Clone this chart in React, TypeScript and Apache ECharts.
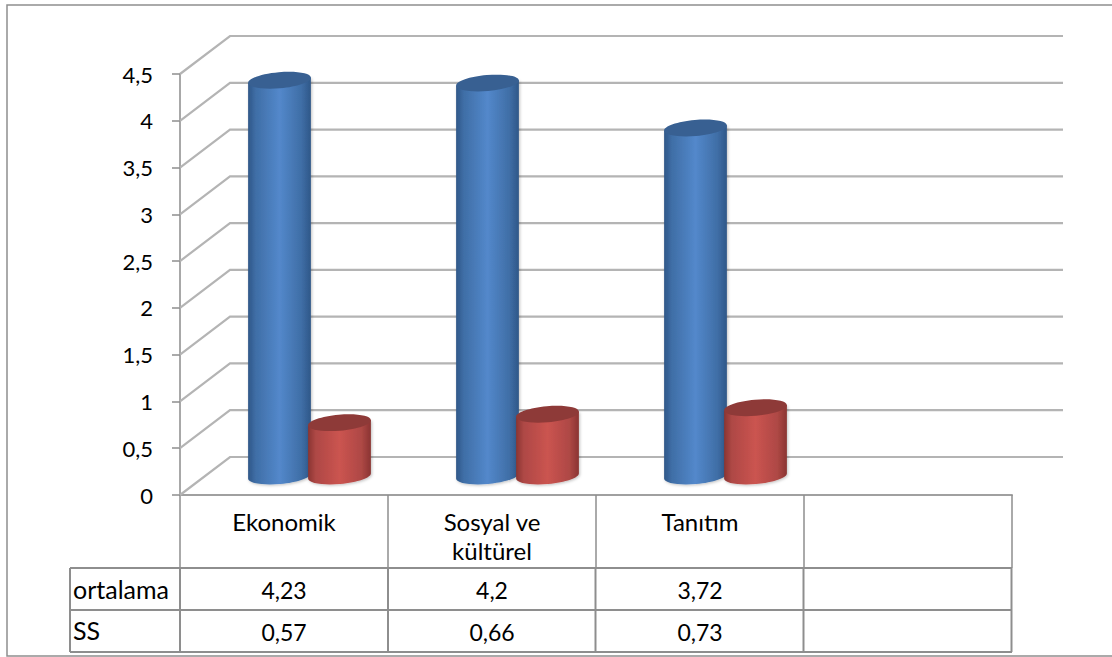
import React, { useEffect, useRef } from "react";
import * as echarts from "echarts";

const categories = ["Ekonomik", "Sosyal ve\nkültürel", "Tanıtım", ""];
const ortalama = [4.23, 4.2, 3.72];
const ss = [0.57, 0.66, 0.73];
const ticks = [0, 0.5, 1, 1.5, 2, 2.5, 3, 3.5, 4, 4.5];
const rowNames = ["ortalama", "SS"];

const FONT = "Lato";
const GRID = { left: 180, top: 74, width: 832, height: 421 };
const DEPTH_X = 50;
const DEPTH_Y = 38;
const RX = 31.5;
const RY = 8;
const TILT = 5;
const K = 0.5523;
const LINE = "#8e8e8e";
const fmt = (v: number) => String(v).replace(".", ",");

const cylinder = (offset: number, body: string[], cap: string) => (params: any, api: any) => {
  const [x, y] = api.coord([api.value(0), api.value(1)]);
  const [, y0] = api.coord([api.value(0), 0]);
  const cx = x + offset + DEPTH_X / 2;
  const top = y - DEPTH_Y / 2;
  const bot = y0 - DEPTH_Y / 2;
  const a = (TILT * Math.PI) / 180;
  // axes of the tilted ellipse
  const ux = RX * Math.cos(a);
  const uy = -RX * Math.sin(a);
  const vx = RY * Math.sin(a);
  const vy = RY * Math.cos(a);
  const p = (cy: number, m: number, n: number) => `${cx + ux * m + vx * n} ${cy + uy * m + vy * n}`;
  // lower half of the ellipse, from its left end to its right end
  const lower = (cy: number) =>
    `C${p(cy, -1, K)} ${p(cy, -K, 1)} ${p(cy, 0, 1)}C${p(cy, K, 1)} ${p(cy, 1, K)} ${p(cy, 1, 0)}`;
  // upper half, from the right end back to the left end
  const upper = (cy: number) =>
    `C${p(cy, 1, -K)} ${p(cy, K, -1)} ${p(cy, 0, -1)}C${p(cy, -K, -1)} ${p(cy, -1, -K)} ${p(cy, -1, 0)}`;
  return {
    type: "group",
    children: [
      {
        type: "path",
        shape: {
          pathData: `M${p(top, -1, 0)}L${p(bot, -1, 0)}${lower(bot)}L${p(top, 1, 0)}Z`,
        },
        style: {
          fill: new echarts.graphic.LinearGradient(0, 0, 1, 0, [
            { offset: 0, color: body[0] },
            { offset: 0.12, color: body[1] },
            { offset: 0.5, color: body[2] },
            { offset: 0.85, color: body[1] },
            { offset: 1, color: body[0] },
          ]),
          shadowBlur: 3,
          shadowColor: "rgba(0,0,0,0.25)",
          shadowOffsetX: 1,
          shadowOffsetY: 1,
        },
      },
      {
        type: "path",
        shape: {
          pathData: `M${p(top, -1, 0)}${lower(top)}${upper(top)}Z`,
        },
        style: { fill: cap },
      },
    ],
  };
};

const renderGrid = (params: any, api: any) => {
  const [x, y] = api.coord([0, api.value(0)]);
  const band = api.size([1, 0])[0];
  const left = x - band / 2;
  return {
    type: "polyline",
    shape: {
      points: [
        [left, y],
        [left + DEPTH_X, y - DEPTH_Y],
        [left + band * 4 + DEPTH_X + 1, y - DEPTH_Y],
      ],
    },
    style: { stroke: "#b4b4b4", lineWidth: 2.2, fill: "none" },
  };
};

const renderCells = (params: any, api: any) => {
  const i = api.value(0);
  const [x] = api.coord([i, 0]);
  const text = (s: string, y: number) => ({
    type: "text",
    x,
    y,
    style: { text: s, fill: "#000", font: `23px ${FONT}`, align: "center", verticalAlign: "middle" },
  });
  return {
    type: "group",
    children: [text(fmt(api.value(1)), 590), text(fmt(api.value(2)), 632)],
  };
};

const hLine = (x1: number, x2: number, y: number, w = 2) => ({
  type: "line",
  shape: { x1, y1: y, x2, y2: y },
  style: { stroke: LINE, lineWidth: w },
});
const vLine = (x: number, y1: number, y2: number, w = 2) => ({
  type: "line",
  shape: { x1: x, y1, x2: x, y2 },
  style: { stroke: LINE, lineWidth: w },
});

export default function App() {
  const ref = useRef<HTMLDivElement>(null);
  useEffect(() => {
    const chart = echarts.init(ref.current!, undefined, { renderer: "svg" });
    chart.setOption({
      animation: false,
      backgroundColor: "#fff",
      grid: { ...GRID },
      xAxis: {
        type: "category",
        data: categories,
        axisLine: { lineStyle: { color: "#a0a0a0", width: 2 } },
        axisTick: { show: true, length: 73, lineStyle: { color: LINE, width: 1.5 } },
        axisLabel: {
          interval: 0,
          margin: 12,
          color: "#000",
          fontFamily: FONT,
          fontSize: 24,
          lineHeight: 29,
        },
      },
      yAxis: {
        type: "value",
        min: 0,
        max: 4.5,
        interval: 0.5,
        splitLine: { show: false },
        axisLine: { show: true, lineStyle: { color: "#a8a8a8", width: 2 } },
        axisTick: { show: true, length: 8, lineStyle: { color: "#8e8e8e", width: 1.5 } },
        axisLabel: {
          margin: 27,
          color: "#000",
          fontFamily: FONT,
          fontSize: 22,
          formatter: (v: number) => fmt(v),
        },
      },
      graphic: [
        { type: "group", silent: true, children: [
          // outer frame
          { type: "polyline", shape: { points: [[1112, 5], [7, 5], [7, 656], [1112, 656]] }, style: { stroke: "#8e8e8e", lineWidth: 1.5, fill: "none" } },
          // table rows
          hLine(70, 1012, 568),
          hLine(70, 1012, 610),
          hLine(70, 1012, 652),
          vLine(70, 568, 652),
          vLine(180, 568, 652),
          vLine(388, 568, 652),
          vLine(595.5, 568, 652),
          vLine(803.5, 568, 652),
          vLine(1011.5, 568, 652),
          ...rowNames.map((name, i) => ({
            type: "text",
            x: 73,
            y: 589 + i * 41,
            style: { text: name, fill: "#000", font: `25px ${FONT}`, align: "left", verticalAlign: "middle" },
          })),
        ] },
      ],
      series: [
        {
          type: "custom",
          name: "grid",
          renderItem: renderGrid,
          data: ticks.map((t) => [t]),
          encode: { y: 0 },
          z: 1,
        },
        {
          type: "custom",
          name: "ortalama",
          renderItem: cylinder(-29.5, ["#2f5788", "#3f6ea6", "#5388cb"], "#386092"),
          data: ortalama.map((v, i) => [i, v]),
          encode: { x: 0, y: 1 },
          z: 2,
        },
        {
          type: "custom",
          name: "SS",
          renderItem: cylinder(30.5, ["#8a3432", "#ae4845", "#cb5450"], "#8e3a38"),
          data: ss.map((v, i) => [i, v]),
          encode: { x: 0, y: 1 },
          z: 3,
        },
        {
          type: "custom",
          name: "table",
          renderItem: renderCells,
          data: ortalama.map((v, i) => [i, v, ss[i]]),
          encode: { x: 0, y: 1 },
          z: 4,
        },
      ],
    });
    return () => chart.dispose();
  }, []);
  return <div ref={ref} style={{ position: "absolute", left: 0, top: 0, width: 1112, height: 657 }} />;
}
